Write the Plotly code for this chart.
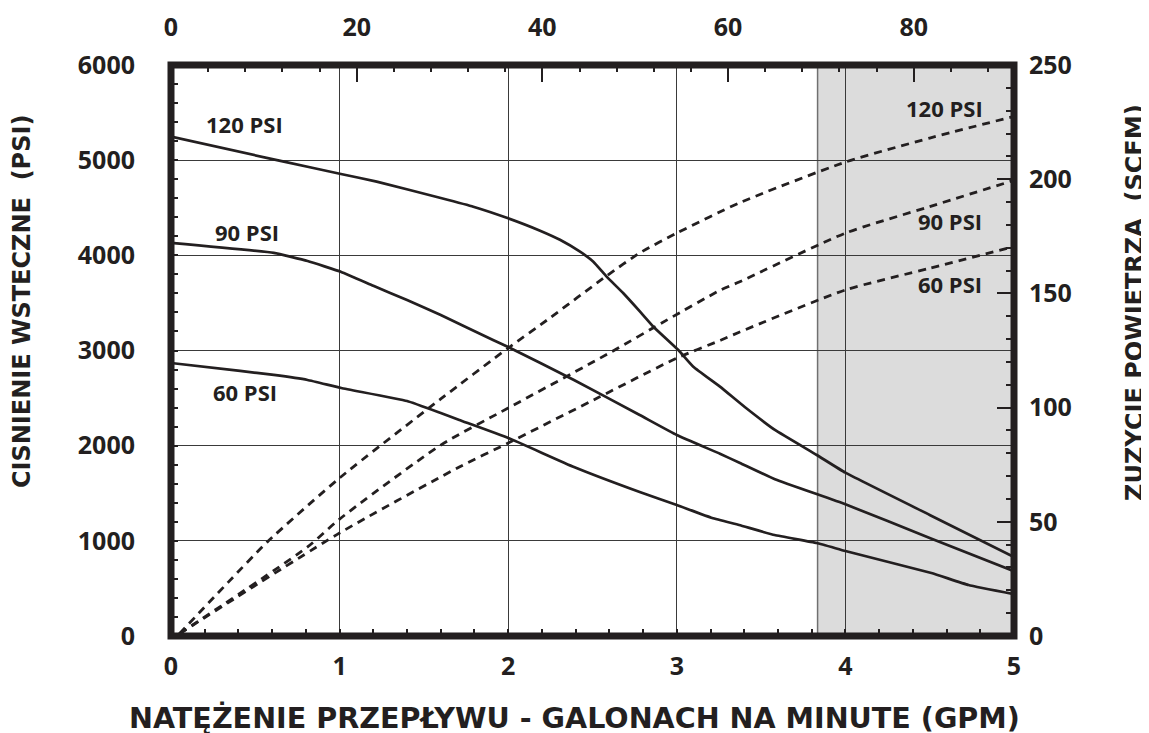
import plotly.graph_objects as go

# ---------------- data ----------------
# Back pressure (PSI) vs flow (GPM) - solid curves
gpm_120 = [0, 0.656, 1.008, 1.22, 1.6, 1.793, 2.0, 2.189, 2.307, 2.426, 2.505, 2.584, 2.683, 2.782, 2.861, 3.009, 3.098, 3.256, 3.405, 3.582, 3.83, 4.0, 4.5, 5.0]
psi_120 = [5247, 4990, 4855, 4774, 4602, 4511, 4389, 4259, 4163, 4038, 3933, 3776, 3601, 3408, 3250, 3005, 2830, 2620, 2403, 2165, 1902, 1716, 1272, 830]

gpm_90 = [0, 0.61, 0.81, 1.01, 1.2, 1.4, 1.6, 1.91, 2.0, 2.39, 2.78, 3.0, 3.256, 3.375, 3.582, 4.0, 4.5, 5.0]
psi_90 = [4130, 4025, 3940, 3825, 3680, 3530, 3373, 3110, 3037, 2690, 2322, 2112, 1915, 1818, 1647, 1384, 1030, 680]

gpm_60 = [0, 0.41, 0.61, 0.81, 1.01, 1.4, 1.6, 1.71, 2.0, 2.39, 2.78, 3.0, 3.21, 3.37, 3.58, 3.83, 4.0, 4.51, 4.73, 5.0]
psi_60 = [2869, 2785, 2743, 2690, 2606, 2469, 2343, 2270, 2081, 1776, 1513, 1377, 1240, 1166, 1061, 977, 893, 662, 536, 440]

# Air consumption (SCFM) vs flow (GPM) - dashed curves
gpm_a120 = [0.05, 0.34, 0.57, 1.0, 1.6, 2.0, 2.23, 2.59, 2.78, 3.0, 3.37, 4.0, 4.5, 5.0]
scfm_a120 = [1, 23.6, 41.1, 69.2, 103.8, 126.1, 138.3, 158, 167.7, 176.4, 189.6, 207.5, 218, 227.5]

gpm_a90 = [0.05, 0.81, 1.0, 1.6, 2.0, 2.61, 2.94, 3.26, 3.37, 4.0, 4.5, 5.0]
scfm_a90 = [1, 39, 51.2, 83.6, 99.8, 124.3, 138.3, 151.5, 155, 176.4, 188, 199.5]

gpm_a60 = [0.05, 1.0, 1.71, 2.0, 2.54, 3.0, 3.26, 3.37, 4.0, 4.5, 5.0]
scfm_a60 = [1, 45.1, 74, 84.5, 104.6, 121.7, 129.5, 133, 151.5, 161, 170.5]

x_ticks = [0, 1, 2, 3, 4, 5]
psi_ticks = [0, 1000, 2000, 3000, 4000, 5000, 6000]
top_ticks = [0, 20, 40, 60, 80]
top_range = [0, 90.8]
scfm_ticks = [0, 50, 100, 150, 200, 250]

label_names = ["120 PSI", "90 PSI", "60 PSI"]

# ---------------- figure ----------------
INK = "#231f20"
FONT = "Open Sans"
WIDE = "DejaVu Sans"

fig = go.Figure()

for gx, gy in [(gpm_120, psi_120), (gpm_90, psi_90), (gpm_60, psi_60)]:
    fig.add_trace(go.Scatter(x=gx, y=gy, mode="lines", xaxis="x", yaxis="y",
                             line=dict(color=INK, width=2.7, shape="spline", smoothing=0.35),
                             showlegend=False, hoverinfo="skip"))

for gx, gy in [(gpm_a120, scfm_a120), (gpm_a90, scfm_a90), (gpm_a60, scfm_a60)]:
    fig.add_trace(go.Scatter(x=gx, y=gy, mode="lines", xaxis="x", yaxis="y2",
                             line=dict(color=INK, width=2.8, dash="8px,6px", shape="spline", smoothing=0.6),
                             showlegend=False, hoverinfo="skip"))

# invisible trace so that the top axis is drawn
fig.add_trace(go.Scatter(x=top_range, y=[None, None], mode="lines", xaxis="x2", yaxis="y",
                         showlegend=False, hoverinfo="skip"))

tickfont = dict(family=FONT, size=25, color=INK, weight="bold")

fig.update_layout(
    width=1149, height=733,
    margin=dict(l=163, r=143, t=57, b=105, autoexpand=False),
    paper_bgcolor="white", plot_bgcolor="white",
    showlegend=False,
    xaxis=dict(range=[0, 5], tickvals=x_ticks, showgrid=True, gridcolor="#3a3a3a", gridwidth=1.4,
               zeroline=False, showline=False, ticks="inside", ticklen=7, tickwidth=1.5, tickcolor=INK,
               minor=dict(dtick=0.2, ticks="inside", ticklen=7, tickwidth=1.5, tickcolor=INK, showgrid=False),
               tickfont=tickfont, ticklabelstandoff=13, automargin=False),
    xaxis2=dict(range=top_range, overlaying="x", side="top", tickvals=top_ticks, showgrid=False,
                zeroline=False, showline=False, ticks="inside", ticklen=17, tickwidth=1.5, tickcolor=INK,
                minor=dict(dtick=4, ticks="inside", ticklen=7, tickwidth=1.5, tickcolor=INK, showgrid=False),
                tickfont=tickfont, ticklabelstandoff=23, automargin=False),
    yaxis=dict(range=[0, 6000], tickvals=psi_ticks, showgrid=True, gridcolor="#3a3a3a", gridwidth=1.4,
               zeroline=False, showline=False, ticks="inside", ticklen=7, tickwidth=1.5, tickcolor=INK,
               minor=dict(dtick=200, ticks="inside", ticklen=7, tickwidth=1.5, tickcolor=INK, showgrid=False),
               tickfont=tickfont, ticklabelstandoff=35, automargin=False),
    yaxis2=dict(range=[0, 250], overlaying="y", side="right", tickvals=scfm_ticks, showgrid=False,
                zeroline=False, showline=False, ticks="inside", ticklen=17, tickwidth=1.5, tickcolor=INK,
                minor=dict(dtick=10, ticks="inside", ticklen=8, tickwidth=1.5, tickcolor=INK, showgrid=False),
                tickfont=tickfont, ticklabelstandoff=14, automargin=False),
)

# shaded region
fig.add_shape(type="rect", xref="x", yref="y", x0=3.835, x1=5, y0=0, y1=6000,
              fillcolor="#dcdcdc", line=dict(width=0), layer="below")
fig.add_shape(type="line", xref="x", yref="y", x0=3.835, x1=3.835, y0=0, y1=6000,
              line=dict(color="#707070", width=1.5), layer="below")
# frame
fig.add_shape(type="rect", xref="x domain", yref="y domain", x0=0, x1=1, y0=0, y1=1,
              line=dict(color=INK, width=7), layer="above")

labfont = dict(family=FONT, size=22, color=INK, weight="bold")
# curve labels (left, pressure curves)
for name, (lx, ly) in zip(label_names, [(0.436, 5385), (0.448, 4250), (0.439, 2569)]):
    fig.add_annotation(x=lx, y=ly, xref="x", yref="y", text=name, showarrow=False,
                       font=labfont, xanchor="center", yanchor="middle")
# curve labels (right, air curves)
for name, (lx, ly) in zip(label_names, [(4.59, 5543), (4.62, 4356), (4.62, 3704)]):
    fig.add_annotation(x=lx, y=ly, xref="x", yref="y", text=name, showarrow=False,
                       font=labfont, xanchor="center", yanchor="middle")

titlefont = dict(family=WIDE, size=24, color=INK, weight="bold")
fig.add_annotation(x=-0.1766, y=0.585, xref="paper", yref="paper", text="CISNIENIE WSTECZNE  (PSI)",
                   textangle=-90, showarrow=False, font=titlefont, xanchor="center", yanchor="middle")
fig.add_annotation(x=1.1435, y=0.585, xref="paper", yref="paper", text="ZUZYCIE POWIETRZA  (SCFM)",
                   textangle=-90, showarrow=False, font=titlefont, xanchor="center", yanchor="middle")
fig.add_annotation(x=0.479, y=-0.1436, xref="paper", yref="paper",
                   text="NATĘŻENIE PRZEPŁYWU - GALONACH NA MINUTE (GPM)",
                   showarrow=False, font=dict(family=WIDE, size=28.6, color=INK, weight="bold"),
                   xanchor="center", yanchor="middle")

fig.write_html("out.html")
